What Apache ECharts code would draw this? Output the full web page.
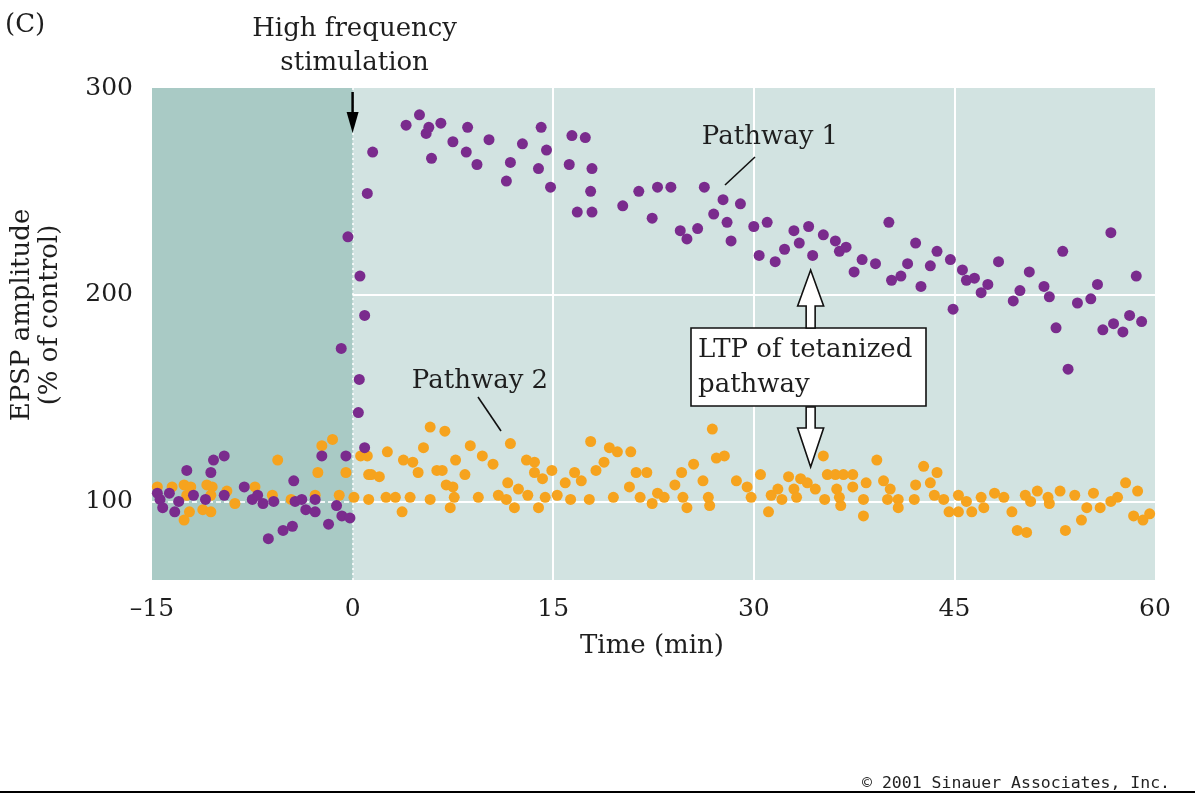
<!DOCTYPE html>
<html><head><meta charset="utf-8">
<script src="https://cdn.jsdelivr.net/npm/echarts@6/dist/echarts.min.js"></script>
<style>html,body{margin:0;padding:0;background:#fff}#c{width:1195px;height:793px}</style>
</head><body><div id="c"></div>
<script>
// Pathway 1 (tetanized) — purple
const pathway1 = [
[-14.6,104],[-13.7,104],[-14.4,101],[-14.2,97],[-13.0,100],[-13.3,95],[-12.4,115],[-11.9,103],[-11.0,101],[-10.6,114],[-10.4,120],[-9.6,122],[-9.6,103],[-8.1,107],[-7.5,101],[-7.1,103],[-6.7,99],[-6.3,82],[-5.9,100],[-5.2,86],[-4.5,88],[-4.4,110],[-4.3,100],[-3.8,101],[-3.5,96],[-2.8,101],[-2.8,95],[-2.3,122],[-1.8,89],[-1.2,98],[-0.85,174],[-0.8,93],[-0.5,122],[-0.35,228],[-0.2,92],
[0.43,143],[0.5,159],[0.55,209],[0.9,190],[0.9,126],[1.1,249],[1.5,269],[4.0,282],[5.0,287],[5.5,278],[5.7,281],[5.9,266],[6.6,283],[7.5,274],[8.5,269],[8.6,281],[9.3,263],[10.2,275],[11.5,255],[11.8,264],[12.7,273],[13.9,261],[14.1,281],[14.5,270],[14.8,252],[16.2,263],[16.4,277],[16.8,240],[17.4,276],[17.8,250],[17.9,261],[17.9,240],[20.2,243],[21.4,250],[22.4,237],[22.8,252],[23.8,252],[24.5,231],[25.0,227],[25.8,232],[26.3,252],[27.0,239],[27.7,246],[28.0,235],[28.3,226],[29.0,244],[30.0,233],[30.4,219],[31.0,235],[31.6,216],[32.3,222],[33.0,231],[33.4,225],[34.1,233],[34.4,219],[35.2,229],[36.1,226],[36.4,221],[36.9,223],[37.5,211],[38.1,217],[39.1,215],[40.1,235],[40.3,207],[41.0,209],[41.5,215],[42.1,225],[42.5,204],[43.2,214],[43.7,221],[44.7,217],[44.9,193],[45.6,212],[45.9,207],[46.5,208],[47.0,201],[47.5,205],[48.3,216],[49.4,197],[49.9,202],[50.6,211],[51.7,204],[52.1,199],[52.6,184],[53.1,221],[53.5,164],[54.2,196],[55.2,198],[55.7,205],[56.1,183],[56.7,230],[56.9,186],[57.6,182],[58.1,190],[58.6,209],[59.0,187]
];
// Pathway 2 (untetanized) — orange
const pathway2 = [
[-14.6,107],[-13.5,107],[-12.6,108],[-12.1,107],[-10.9,108],[-10.5,107],[-12.4,103],[-10.6,103],[-9.4,105],[-12.2,95],[-12.6,91],[-11.2,96],[-10.6,95],[-8.8,99],[-7.3,107],[-6.0,103],[-5.6,120],[-4.6,101],[-2.8,103],[-2.6,114],[-2.3,127],[-1.5,130],[-1.0,103],[-0.5,114],
[0.1,102],[0.6,122],[1.1,122],[1.2,113],[1.2,101],[1.4,113],[2.0,112],[2.6,124],[2.5,102],[3.2,102],[3.7,95],[3.8,120],[4.5,119],[4.3,102],[4.9,114],[5.3,126],[5.8,136],[5.8,101],[6.3,115],[6.7,115],[6.9,134],[7.0,108],[7.5,107],[7.7,120],[7.6,102],[7.3,97],[8.4,113],[8.8,127],[9.4,102],[9.7,122],[10.5,118],[10.9,103],[11.5,101],[11.6,109],[11.8,128],[12.1,97],[12.4,106],[13.1,103],[13.0,120],[13.6,119],[13.6,114],[14.2,111],[13.9,97],[14.4,102],[14.9,115],[15.3,103],[15.9,109],[16.3,101],[16.6,114],[17.1,110],[17.7,101],[17.8,129],[18.2,115],[18.8,119],[19.2,126],[19.8,124],[20.8,124],[19.5,102],[20.7,107],[21.2,114],[22.0,114],[21.5,102],[22.4,99],[22.8,104],[23.3,102],
[24.1,108],[24.6,114],[24.7,102],[25.0,97],[25.5,118],[26.2,110],[26.6,102],[26.7,98],[26.9,135],[27.2,121],[27.8,122],[28.7,110],[29.5,107],[29.8,102],[30.5,113],[31.1,95],[31.3,103],[31.8,106],[32.1,101],[32.6,112],[33.0,106],[33.2,102],[33.5,111],[34.0,109],[34.6,106],[35.2,122],[35.3,101],[35.5,113],[36.1,113],[36.7,113],[37.4,113],[36.2,106],[36.4,102],[36.5,98],[37.4,107],[38.4,109],[38.2,101],[38.2,93],[39.2,120],[39.7,110],[40.2,106],[40.0,101],[40.8,101],[40.8,97],[42.0,101],[42.1,108],[42.7,117],[43.2,109],[43.7,114],[43.5,103],[44.2,101],[44.6,95],[45.3,95],[45.3,103],[45.9,100],[46.3,95],[47.0,102],[47.2,97],[48.0,104],[48.7,102],[49.3,95],[49.7,86],[50.4,85],[50.3,103],[50.7,100],[51.2,105],[52.0,102],[52.1,99],[52.9,105],[53.3,86],[54.0,103],[54.5,91],[54.9,97],[55.4,104],[55.9,97],[56.7,100],[57.2,102],[57.8,109],[58.7,105],[58.4,93],[59.1,91],[59.6,94]
];
const xTicks = [-15, 0, 15, 30, 45, 60];
const yTicks = [100, 200, 300];
const xGrid = [15, 30, 45];
const yGrid = [100, 200];

const SERIF = '"DejaVu Serif", "Liberation Serif", serif';
const TXT = '#1e1e1e';
const FS = 25;
const chart = echarts.init(document.getElementById('c'), null, {renderer: 'canvas'});

const gridLines = [];
xGrid.forEach(v => gridLines.push({xAxis: v, lineStyle: {color: '#fff', width: 2, type: 'solid'}}));
yGrid.forEach(v => gridLines.push([{coord: [0, v], lineStyle: {color: '#fff', width: 2, type: 'solid'}}, {coord: [60, v]}]));
gridLines.push([{coord: [-15, 100], lineStyle: {color: '#fff', width: 2, type: [5, 3], opacity: 0.85}}, {coord: [0, 100]}]);
gridLines.push({xAxis: 0, lineStyle: {color: '#fff', width: 1.5, type: [2, 3]}});

chart.setOption({
  animation: false,
  grid: {left: 152, right: 40, top: 88, bottom: 213, show: true, backgroundColor: '#d2e3e1', borderWidth: 0},
  xAxis: {
    type: 'value', min: -15, max: 60, interval: 15,
    axisLine: {show: false}, axisTick: {show: false}, splitLine: {show: false},
    axisLabel: {fontFamily: SERIF, fontSize: FS, color: TXT, margin: 17,
      formatter: v => v < 0 ? '\u2013' + Math.abs(v) : String(v)}
  },
  yAxis: {
    type: 'value', min: 62, max: 300,
    axisLine: {show: false}, axisTick: {show: false}, splitLine: {show: false},
    axisLabel: {fontFamily: SERIF, fontSize: FS, color: TXT, margin: 19, customValues: yTicks}
  },
  series: [
    {
      type: 'scatter', data: [], z: 1, silent: true,
      markArea: {z: 1, silent: true, itemStyle: {color: '#a9cac5'}, data: [[{coord: [-15, 62]}, {coord: [0, 300]}]]},
      markLine: {z: 1, silent: true, symbol: 'none', label: {show: false}, animation: false, data: gridLines}
    },
    {
      name: 'Pathway 2', type: 'scatter', data: pathway2, z: 3, symbolSize: 11,
      itemStyle: {color: '#f6a31e', opacity: 1}
    },
    {
      name: 'Pathway 1', type: 'scatter', data: pathway1, z: 4, symbolSize: 11,
      itemStyle: {color: '#7a2b8d', opacity: 1}
    }
  ]
});

function P(x, y) { return chart.convertToPixel({gridIndex: 0}, [x, y]); }
const s0 = P(0, 298);       // stimulation arrow start
const ax = P(34.25, 0)[0];  // LTP arrow x
const F = FS + 1;
const g = [];
g.push({type: 'text', left: 5, top: 12, style: {text: '(C)', font: F + 'px ' + SERIF, fill: TXT}});
g.push({type: 'text', x: s0[0] + 2, y: 12, style: {text: 'High frequency\nstimulation', font: F + 'px ' + SERIF, fill: TXT, align: 'center', verticalAlign: 'top', lineHeight: 34}});
g.push({type: 'line', shape: {x1: s0[0], y1: 92, x2: s0[0], y2: 116}, style: {stroke: '#000', lineWidth: 2.5}, z: 10});
g.push({type: 'polygon', shape: {points: [[s0[0] - 6, 112], [s0[0] + 6, 112], [s0[0], 133]]}, style: {fill: '#000'}, z: 10});
g.push({type: 'text', x: 770, y: 137, style: {text: 'Pathway 1', font: F + 'px ' + SERIF, fill: TXT, align: 'center', verticalAlign: 'middle'}, z: 10});
g.push({type: 'line', shape: {x1: 755, y1: 157, x2: 725, y2: 185}, style: {stroke: '#111', lineWidth: 1.6}, z: 10});
g.push({type: 'text', x: 480, y: 381, style: {text: 'Pathway 2', font: F + 'px ' + SERIF, fill: TXT, align: 'center', verticalAlign: 'middle'}, z: 10});
g.push({type: 'line', shape: {x1: 478, y1: 397, x2: 501, y2: 431}, style: {stroke: '#111', lineWidth: 1.6}, z: 10});
g.push({type: 'rect', shape: {x: 691, y: 328, width: 235, height: 78}, style: {fill: '#fff', stroke: '#111', lineWidth: 1.6}, z: 10});
g.push({type: 'text', x: 698, y: 350, style: {text: 'LTP of tetanized', font: F + 'px ' + SERIF, fill: TXT, verticalAlign: 'middle'}, z: 11});
g.push({type: 'text', x: 698, y: 385, style: {text: 'pathway', font: F + 'px ' + SERIF, fill: TXT, verticalAlign: 'middle'}, z: 11});
g.push({type: 'polygon', shape: {points: [[ax - 4.5, 328], [ax - 4.5, 306], [ax - 13, 306], [ax, 270], [ax + 13, 306], [ax + 4.5, 306], [ax + 4.5, 328]]}, style: {fill: '#fff', stroke: '#111', lineWidth: 1.6}, z: 10});
g.push({type: 'polygon', shape: {points: [[ax - 4.5, 407], [ax - 4.5, 428], [ax - 13, 428], [ax, 467], [ax + 13, 428], [ax + 4.5, 428], [ax + 4.5, 407]]}, style: {fill: '#fff', stroke: '#111', lineWidth: 1.6}, z: 10});
g.push({type: 'text', x: 22, y: 315, rotation: Math.PI / 2, style: {text: 'EPSP amplitude', font: F + 'px ' + SERIF, fill: TXT, align: 'center', verticalAlign: 'middle'}});
g.push({type: 'text', x: 50, y: 315, rotation: Math.PI / 2, style: {text: '(% of control)', font: F + 'px ' + SERIF, fill: TXT, align: 'center', verticalAlign: 'middle'}});
g.push({type: 'text', x: 652, y: 646, style: {text: 'Time (min)', font: F + 'px ' + SERIF, fill: TXT, align: 'center', verticalAlign: 'middle'}});
g.push({type: 'text', x: 1170, y: 784, style: {text: '\u00a9 2001 Sinauer Associates, Inc.', font: '16.5px "DejaVu Sans Mono", monospace', fill: '#222', align: 'right', verticalAlign: 'middle'}});
g.push({type: 'line', shape: {x1: 0, y1: 792, x2: 1195, y2: 792}, style: {stroke: '#000', lineWidth: 2}});
chart.setOption({graphic: g});
</script></body></html>
